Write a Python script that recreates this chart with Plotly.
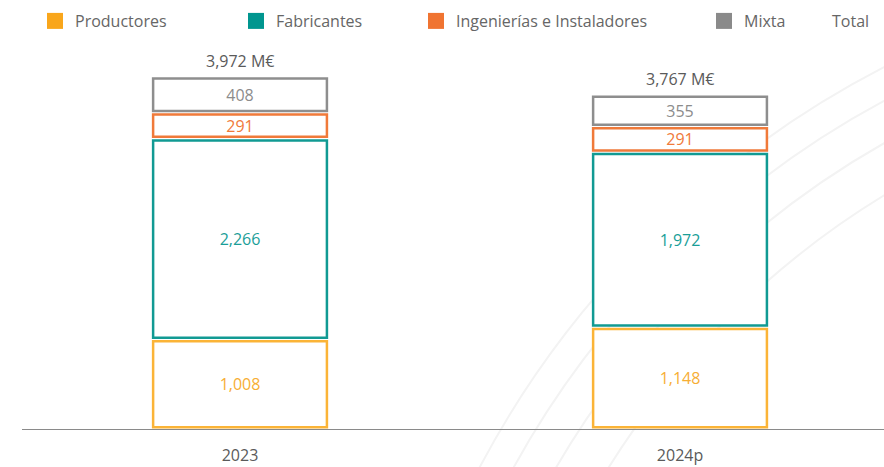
import plotly.graph_objects as go

# ---- data ----
years = ["2023", "2024p"]
series_names = ["Productores", "Fabricantes", "Ingenierías e Instaladores", "Mixta"]
productores = [1008, 1148]
fabricantes = [2266, 1972]
ingenierias = [291, 291]
mixta = [408, 355]
totals = [3972, 3767]
total_name = "Total"

# ---- style ----
FONT = "Open Sans"
TXT = "#5a5a5a"
legend_colors = ["#F9A61B", "#00968F", "#F07431", "#8A8A8A"]
line_colors = ["#FBB437", "#119A93", "#F07A3A", "#8E8E8E"]
text_colors = ["#F7AE34", "#1A9E98", "#F07A3A", "#8C8C8C"]
GAP = 40  # visual gap between stacked boxes, in data units
W, H = 884, 467
legend_x_px = [35, 236, 416, 704, 792]

fig = go.Figure()

values = [productores, fabricantes, ingenierias, mixta]
cum = [0, 0]
for i, (name, vals) in enumerate(zip(series_names, values)):
    base = [c + GAP / 2 for c in cum]
    heights = [v - GAP for v in vals]
    fig.add_trace(go.Bar(
        x=years, y=heights, base=base, width=0.395,
        marker=dict(color="white", line=dict(color=line_colors[i], width=2.5)),
        text=[f"{v:,}" for v in vals], textposition="inside",
        insidetextanchor="middle", textangle=0,
        textfont=dict(color=text_colors[i], size=16, family=FONT),
        showlegend=False, hoverinfo="skip", name=name,
    ))
    cum = [c + v for c, v in zip(cum, vals)]

# legend-only traces
legend_keys = ["legend", "legend2", "legend3", "legend4", "legend5"]
for i, name in enumerate(series_names):
    fig.add_trace(go.Scatter(
        x=[None], y=[None], mode="markers", name=name,
        marker=dict(symbol="square", size=16, color=legend_colors[i]),
        legend=legend_keys[i],
    ))
fig.add_trace(go.Scatter(
    x=[None], y=[None], mode="markers", name=total_name,
    marker=dict(symbol="square", size=16, color="rgba(0,0,0,0)"),
    legend=legend_keys[4],
))

# total labels (x given as category index)
for i, t in enumerate(totals):
    fig.add_annotation(x=i, y=t, text=f"{t:,} M€", showarrow=False,
                       yanchor="bottom", yshift=3,
                       font=dict(size=16, color=TXT, family=FONT))

# faint decorative arcs
cx, cy = 1321, 913
for r in [952, 922, 885, 840]:
    fig.add_shape(type="circle", xref="paper", yref="paper",
                  x0=(cx - r - 22) / 862, x1=(cx + r - 22) / 862,
                  y0=(H - 38 - (cy + r)) / 389, y1=(H - 38 - (cy - r)) / 389,
                  line=dict(color="#F3F3F3", width=2), layer="below")

legend_common = dict(orientation="h", xref="container", yref="container",
                     xanchor="left", yanchor="top", y=1 - 4 / H,
                     bgcolor="rgba(0,0,0,0)", borderwidth=0,
                     font=dict(size=16, color="#666666", family=FONT))
layout_legends = {}
for k, px in zip(legend_keys, legend_x_px):
    layout_legends[k] = dict(x=px / W, **legend_common)

fig.update_layout(
    width=W, height=H,
    margin=dict(l=22, r=0, t=40, b=38),
    paper_bgcolor="white", plot_bgcolor="rgba(0,0,0,0)",
    barmode="overlay",
    font=dict(family=FONT, color=TXT, size=16),
    uniformtext=dict(minsize=16, mode="show"),
    xaxis=dict(type="category", range=[-0.4955, 1.4636], showline=True,
               linecolor="#8a8a8a", linewidth=1, showgrid=False, zeroline=False,
               ticks="", ticklabelstandoff=12,
               tickfont=dict(size=16, color=TXT, family=FONT), fixedrange=True),
    yaxis=dict(range=[0, 4386], visible=False, showgrid=False, fixedrange=True),
    **layout_legends,
)

fig.write_html("out.html", config={"displayModeBar": False},
               post_script="document.body.style.margin='0';")
